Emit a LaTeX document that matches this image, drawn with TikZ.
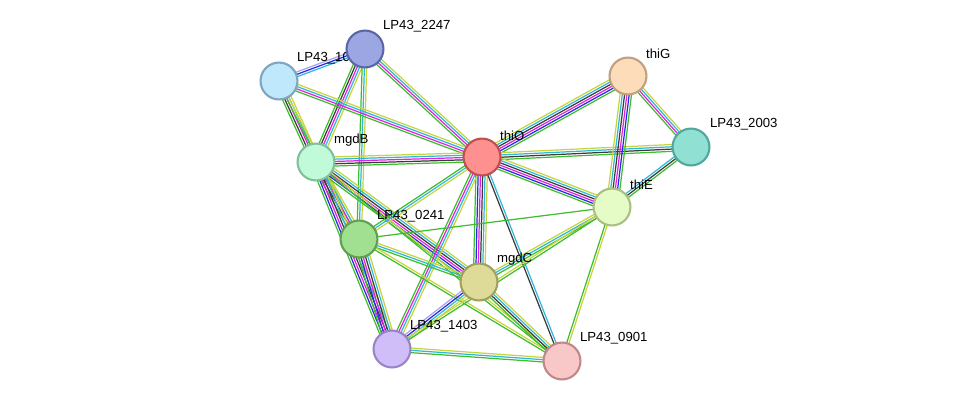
\documentclass[tikz,border=0pt]{standalone}
\usepackage{fontspec}
\setmainfont{Liberation Sans}
\usetikzlibrary{calc}
\definecolor{cnb}{HTML}{3DBE2E}
\definecolor{cco}{HTML}{3B3B3B}
\definecolor{cex}{HTML}{E023E0}
\definecolor{cdb}{HTML}{2FB8DC}
\definecolor{ctm}{HTML}{C8D43C}
\definecolor{cco2}{HTML}{2A2AE0}
\definecolor{chm}{HTML}{A8A4F0}

\tikzset{
  prot/.style 2 args={circle, fill=#1, draw=#2, line width=1.2pt, minimum size=21pt, inner sep=0pt},
  plabel/.style={font=\fontsize{7.5}{9}\selectfont, anchor=south west, inner sep=1pt}
}

% one STRING-style edge: parallel lines, one per colour
\newcommand{\sedge}[3]{%
  \foreach \col [count=\i] in {#3} {\global\let\ncols\i}%
  \foreach \col [count=\i] in {#3} {%
    \pgfmathsetmacro{\off}{(\i-(\ncols+1)/2)*1.3}%
    \draw[\col, line width=0.7pt]
      ($(#1)!\off pt!90:(#2)$) -- ($(#2)!\off pt!-90:(#1)$);
  }%
}

\begin{document}
\begin{tikzpicture}[x=0.02cm, y=-0.02cm]
\useasboundingbox (0,0) rectangle (975,407);

% node positions
\coordinate (thiO) at (482,157);
\coordinate (p2247) at (365,49);
\coordinate (p104) at (279,81);
\coordinate (mgdB) at (316,162);
\coordinate (thiG) at (628,76);
\coordinate (p2003) at (691,147);
\coordinate (thiE) at (612,207);
\coordinate (p0241) at (359,239);
\coordinate (mgdC) at (479,282);
\coordinate (p1403) at (392,349);
\coordinate (p0901) at (562,361);

% edges
\sedge{p2247}{p104}{chm,cco2,cdb}
\sedge{p2247}{mgdB}{cnb,cco,cex,cdb,ctm}
\sedge{p2247}{p0241}{cnb,cdb,ctm}
\sedge{p2247}{thiO}{cnb,cex,cdb,ctm}
\sedge{p104}{mgdB}{cnb,cco,cex,cdb,ctm}
\sedge{p104}{p0241}{cnb,ctm}
\sedge{p104}{thiO}{cnb,cex,cdb,ctm}
\sedge{mgdB}{thiO}{cnb,cco,cex,cdb,ctm}
\sedge{mgdB}{p0241}{cnb,cco,cex,cdb,ctm}
\sedge{mgdB}{mgdC}{cnb,cco2,cex,cco,cdb,ctm}
\sedge{mgdB}{p1403}{cnb,cco2,cex,cco,cdb,ctm}
\sedge{mgdB}{p0901}{cnb,ctm}
\sedge{thiO}{thiG}{cnb,cco2,cex,cco,cdb,ctm}
\sedge{thiO}{p2003}{cnb,cco,cdb,ctm}
\sedge{thiO}{thiE}{cnb,cco2,cex,cco,cdb,ctm}
\sedge{thiO}{p0241}{cnb,cdb,ctm}
\sedge{thiO}{mgdC}{cnb,cco2,cex,cco,cdb,ctm}
\sedge{thiO}{p1403}{cnb,cex,cdb,ctm}
\sedge{thiO}{p0901}{cco,cdb}
\sedge{p0241}{mgdC}{cnb,cdb,ctm}
\sedge{p0241}{p1403}{cnb,cco2,cex,cco,cdb,ctm}
\sedge{p0241}{thiE}{cnb}
\sedge{p0241}{p0901}{cnb,ctm}
\sedge{mgdC}{p1403}{chm,cco2,cdb,ctm}
\sedge{mgdC}{thiE}{cnb,cdb,ctm}
\sedge{mgdC}{p0901}{cnb,cco,cdb,ctm}
\sedge{p1403}{p0901}{cnb,cdb,ctm}
\sedge{p1403}{thiE}{cnb,ctm}
\sedge{thiE}{p0901}{cnb,ctm}
\sedge{thiE}{thiG}{cnb,cco2,cex,cco,cdb,ctm}
\sedge{thiE}{p2003}{cnb,cco,cdb}
\sedge{thiG}{p2003}{cnb,cex,cdb,ctm}

% proteins
\definecolor{fthiO}{HTML}{FF9090}\definecolor{dthiO}{HTML}{C05050}
\definecolor{f2247}{HTML}{9CA6E2}\definecolor{d2247}{HTML}{5A66A8}
\definecolor{f104}{HTML}{C0E8FC}\definecolor{d104}{HTML}{7EA6C0}
\definecolor{fmgdB}{HTML}{C0FAD8}\definecolor{dmgdB}{HTML}{80C09C}
\definecolor{fthiG}{HTML}{FDDCBA}\definecolor{dthiG}{HTML}{C0A080}
\definecolor{f2003}{HTML}{90E0D4}\definecolor{d2003}{HTML}{50A89C}
\definecolor{fthiE}{HTML}{E6FCC6}\definecolor{dthiE}{HTML}{A8C080}
\definecolor{f0241}{HTML}{A0E090}\definecolor{d0241}{HTML}{60A050}
\definecolor{fmgdC}{HTML}{DEDA98}\definecolor{dmgdC}{HTML}{A0A060}
\definecolor{f1403}{HTML}{D0BEF8}\definecolor{d1403}{HTML}{9A84C8}
\definecolor{f0901}{HTML}{F8C8C8}\definecolor{d0901}{HTML}{C08888}
\node[prot={f104}{d104}] (n104) at (p104) {};
\node[plabel] (l104) at (295,66) {LP43\_104};
\node[prot={fthiO}{dthiO}] (nthiO) at (thiO) {};
\node[prot={f2247}{d2247}] (n2247) at (p2247) {};
\node[prot={fmgdB}{dmgdB}] (nmgdB) at (mgdB) {};
\node[prot={fthiG}{dthiG}] (nthiG) at (thiG) {};
\node[prot={f2003}{d2003}] (n2003) at (p2003) {};
\node[prot={fthiE}{dthiE}] (nthiE) at (thiE) {};
\node[prot={f0241}{d0241}] (n0241) at (p0241) {};
\node[prot={fmgdC}{dmgdC}] (nmgdC) at (mgdC) {};
\node[prot={f1403}{d1403}] (n1403) at (p1403) {};
\node[prot={f0901}{d0901}] (n0901) at (p0901) {};

% labels
\node[plabel] at (498,143) {thiO};
\node[plabel] at (381,34) {LP43\_2247};
\node[plabel] at (332,148) {mgdB};
\node[plabel] at (644,61) {thiG};
\node[plabel] at (708,132) {LP43\_2003};
\node[plabel] at (628,192) {thiE};
\node[plabel] at (375,224) {LP43\_0241};
\node[plabel] at (495,267) {mgdC};
\node[plabel] at (408,334) {LP43\_1403};
\node[plabel] at (578,346) {LP43\_0901};
\end{tikzpicture}
\end{document}
